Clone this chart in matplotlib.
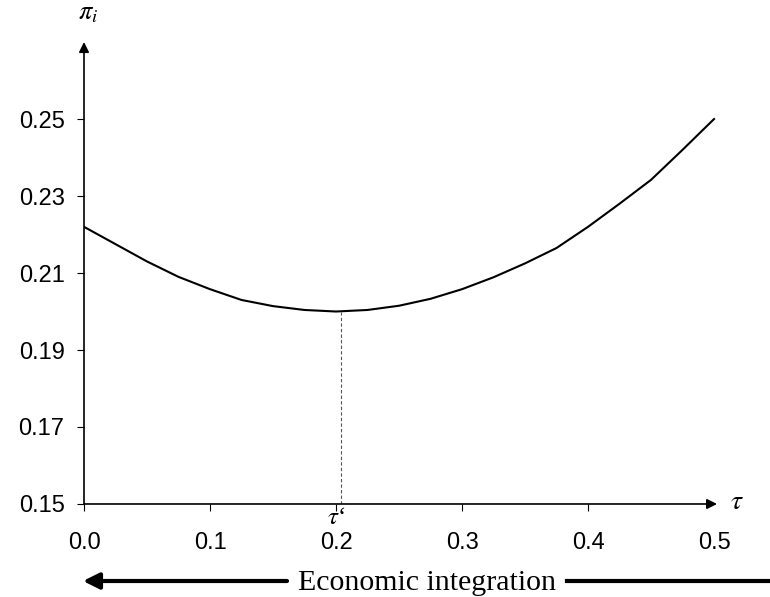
import matplotlib
matplotlib.use('Agg')
import matplotlib.pyplot as plt
from matplotlib.patches import FancyArrowPatch

plt.rcParams['font.family'] = 'Liberation Sans'
plt.rcParams['mathtext.fontset'] = 'stix'

# curve values
tau = [0.0, 0.025, 0.05, 0.075, 0.1, 0.125, 0.15, 0.175, 0.2, 0.225, 0.25,
       0.275, 0.3, 0.325, 0.35, 0.375, 0.4, 0.425, 0.45, 0.475, 0.5]
profit = [0.2220, 0.2175, 0.2130, 0.2090, 0.2058, 0.2030, 0.2014, 0.2004, 0.2000,
          0.2004, 0.2015, 0.2033, 0.2058, 0.2089, 0.2125, 0.2165, 0.2220, 0.2280,
          0.2342, 0.2420, 0.2500]
tau_star = 0.204
x_ticks = [0.0, 0.1, 0.2, 0.3, 0.4, 0.5]
x_labels = ['0.0', '0.1', '0.2', '0.3', '0.4', '0.5']
y_ticks = [0.15, 0.17, 0.19, 0.21, 0.23, 0.25]
y_labels = ['0.15', '0.17', '0.19', '0.21', '0.23', '0.25']

fig = plt.figure(figsize=(7.7, 5.97), dpi=100)
ax = fig.add_axes([0.1091, 0.1558, 0.8264, 0.777])
ax.set_xlim(0, 0.505)
ax.set_ylim(0.15, 0.2705)

ax.plot(tau, profit, color='black', lw=1.5, solid_joinstyle='miter')
ax.plot([tau_star, tau_star], [0.15, min(profit)], color='#555555', lw=0.8, ls=(0, (3, 2)))

for s in ax.spines.values():
    s.set_visible(False)

# axes drawn as arrows
arrow_kw = dict(arrowstyle='-|>', color='black', lw=1.2, mutation_scale=15, shrinkA=0, shrinkB=0)
ax.annotate('', xy=(0.5024, 0.15), xytext=(0, 0.15), arrowprops=arrow_kw, annotation_clip=False)
ax.annotate('', xy=(0, 0.270), xytext=(0, 0.15), arrowprops=arrow_kw, annotation_clip=False)

ax.set_xticks(x_ticks)
ax.set_xticklabels(x_labels)
ax.set_yticks(y_ticks)
ax.set_yticklabels(y_labels)
ax.tick_params(axis='both', length=5, width=0.8, labelsize=17)
ax.tick_params(axis='x', pad=15)
ax.tick_params(axis='y', pad=9)
ax.xaxis.get_major_ticks()[-1].tick1line.set_visible(False)

ax.text(0.2, 0.1491, r"$\tau$‘", ha='center', va='top', fontsize=18, family='Liberation Serif')
ax.text(0.518, 0.1505, r'$\tau$', ha='center', va='center', fontsize=20)
ax.text(0.003, 0.2775, r'$\pi_i$', ha='center', va='center', fontsize=19)

# economic integration arrow under the axis
fig.text(0.555, 0.0117, 'Economic integration', ha='center', va='baseline',
         fontsize=21.5, family='Liberation Serif')
fig.patches.append(FancyArrowPatch(
    (287 / 770, 0.0268), (83 / 770, 0.0268), transform=fig.transFigure,
    arrowstyle='-|>', mutation_scale=24, lw=3.0, color='black', shrinkA=0, shrinkB=0))
fig.lines.append(plt.Line2D([567 / 770, 770 / 770], [0.0268, 0.0268],
                            transform=fig.transFigure, lw=3.0, color='black'))

fig.savefig('out.png', dpi=100)
